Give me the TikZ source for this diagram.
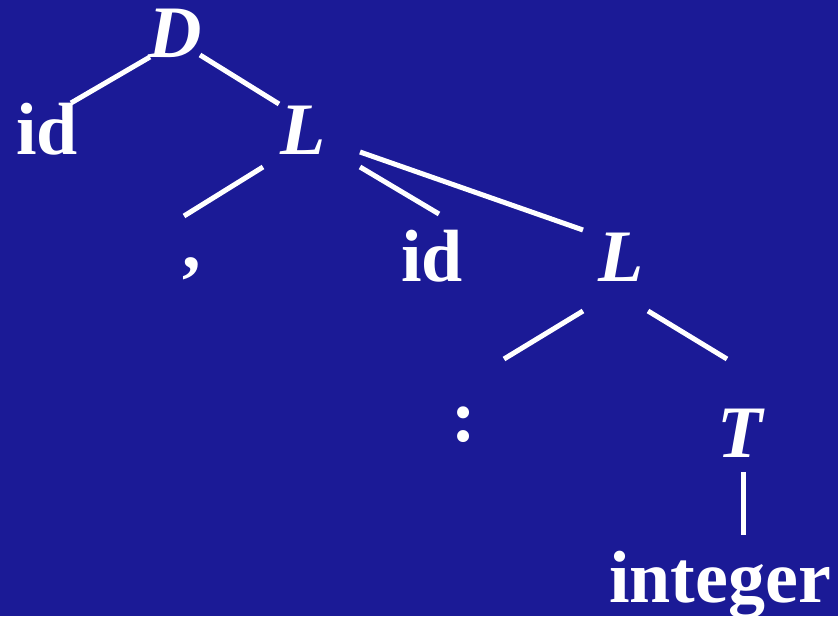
\documentclass[tikz,border=0pt]{standalone}
\usepackage{fontspec}
\setmainfont{Liberation Serif}
\definecolor{slideblue}{RGB}{27,26,150}
\usetikzlibrary{positioning}
\tikzset{
  sym/.style={text=white,inner sep=0pt,anchor=base,
              font=\fontsize{74}{80}\selectfont\bfseries},
  nt/.style={sym,font=\fontsize{74}{80}\selectfont\bfseries\itshape},
  edge/.style={draw=white,line width=5pt},
}
\begin{document}
\begin{tikzpicture}[x=1pt,y=1pt]
  \fill[slideblue] (0,0) rectangle (838,616);
  \useasboundingbox (0,0) rectangle (838,616);

  % nonterminals
  \node[nt] (d)  at (175,558) {D};
  \node[nt] (l1) at (303,461) {L};
  \node[nt] (l2) at (621,334) {L};
  \node[nt] (t)  at (740,158) {T};

  % terminals
  \node[sym] (id1)   at (47,461)  {id};
  \node[sym] (comma) at (192,347) {,};
  \node[sym] (id2)   at (432,334) {id};
  \node[sym] (colon) at (464,174) {:};
  \node[sym] (int)   at (720,14)  {integer};

  % tree edges
  \draw[edge] ([shift={(-25pt,1pt)}]d.base)   -- ([shift={(24pt,52pt)}]id1.base);
  \draw[edge] ([shift={(25pt,3pt)}]d.base)    -- ([shift={(-24pt,51pt)}]l1.base);
  \draw[edge] ([shift={(-40pt,-12pt)}]l1.base) -- ([shift={(-8pt,53pt)}]comma.base);
  \draw[edge] ([shift={(57pt,-12pt)}]l1.base) -- ([shift={(7pt,68pt)}]id2.base);
  \draw[edge] ([shift={(57pt,3pt)}]l1.base)   -- ([shift={(-38pt,52pt)}]l2.base);
  \draw[edge] ([shift={(-38pt,-29pt)}]l2.base) -- ([shift={(40pt,83pt)}]colon.base);
  \draw[edge] ([shift={(27pt,-29pt)}]l2.base) -- ([shift={(-13pt,99pt)}]t.base);
  \draw[edge] ([shift={(3pt,-14pt)}]t.base)   -- ([shift={(23pt,67pt)}]int.base);
\end{tikzpicture}
\end{document}
